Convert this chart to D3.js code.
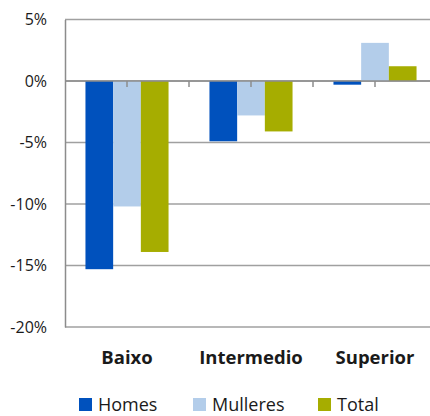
<!DOCTYPE html>
<html>
<head>
<meta charset="utf-8">
<script src="https://cdn.jsdelivr.net/npm/d3@7"></script>
<style>
  body { margin: 0; background: #fff; }
  text { font-family: "Open Sans", Lato, sans-serif; fill: #1a1a1a; }
</style>
</head>
<body>
<div id="chart"></div>
<script>
var categories = ["Baixo", "Intermedio", "Superior"];
var seriesNames = ["Homes", "Mulleres", "Total"];
var homes = [-15.3, -4.9, -0.3];
var mulleres = [-10.2, -2.8, 3.1];
var total = [-13.9, -4.1, 1.2];
var yTicks = [5, 0, -5, -10, -15, -20];
var colors = ["#0051bd", "#b3cdea", "#a6ad00"];

var svgWidth = 430;
var svgHeight = 416;
var margin = { top: 19.5, right: -7, bottom: 89, left: 65 };
var width = svgWidth - margin.left - margin.right;
var height = svgHeight - margin.top - margin.bottom;

var svg = d3.select("#chart")
  .append("svg")
  .attr("width", svgWidth)
  .attr("height", svgHeight);
var chartGroup = svg.append("g")
  .attr("transform", `translate(${margin.left}, ${margin.top})`);

var data = categories.map(function(c, i) {
  return { cat: c, values: [homes[i], mulleres[i], total[i]] };
});

var x0 = d3.scaleBand().domain(categories).range([0, width]);
var x1 = d3.scaleBand().domain(seriesNames).range([0, x0.bandwidth() * 0.67]);
var y = d3.scaleLinear().domain([-20, 5]).range([height, 0]);

// gridlines
chartGroup.selectAll(".grid")
  .data(yTicks)
  .enter()
  .append("line")
  .attr("x1", 0)
  .attr("x2", width)
  .attr("y1", d => y(d))
  .attr("y2", d => y(d))
  .attr("stroke", "#a0a0a0")
  .attr("stroke-width", 1.5);

// y axis
var leftAxis = d3.axisLeft(y).tickValues(yTicks).tickSize(0).tickPadding(18)
  .tickFormat(d => d + "%");
var yAxis = chartGroup.append("g").call(leftAxis);
yAxis.select(".domain").attr("stroke", "#8c8c8c").attr("stroke-width", 1.5);
yAxis.selectAll("text")
  .style("font-size", "16px")
  .style("font-family", "'Open Sans', sans-serif")
  .attr("fill", "#1a1a1a");

// bars
var groups = chartGroup.selectAll(".cat")
  .data(data)
  .enter()
  .append("g")
  .attr("transform", d => `translate(${x0(d.cat) + x0.bandwidth() * 0.165}, 0)`);

groups.selectAll("rect")
  .data(d => d.values.map((v, i) => ({ name: seriesNames[i], value: v, i: i })))
  .enter()
  .append("rect")
  .attr("x", d => x1(d.name))
  .attr("width", x1.bandwidth())
  .attr("y", d => y(Math.max(0, d.value)))
  .attr("height", d => Math.abs(y(d.value) - y(0)))
  .attr("fill", d => colors[d.i]);

// zero line with category ticks
chartGroup.append("line")
  .attr("x1", 0)
  .attr("x2", width)
  .attr("y1", y(0))
  .attr("y2", y(0))
  .attr("stroke", "#8c8c8c")
  .attr("stroke-width", 1.5);

var tickPos = [];
categories.forEach(function(c, i) {
  tickPos.push(x0(c) + x0.bandwidth() / 2);
  if (i > 0) tickPos.push(x0(c));
});
chartGroup.selectAll(".ctick")
  .data(tickPos)
  .enter()
  .append("line")
  .attr("x1", d => d)
  .attr("x2", d => d)
  .attr("y1", y(0))
  .attr("y2", y(0) + 6)
  .attr("stroke", "#8c8c8c")
  .attr("stroke-width", 1.5);

// category labels
chartGroup.selectAll(".clabel")
  .data(categories)
  .enter()
  .append("text")
  .attr("x", d => x0(d) + x0.bandwidth() / 2)
  .attr("y", 364 - margin.top)
  .attr("text-anchor", "middle")
  .style("font-size", "18.5px")
  .style("font-weight", "bold")
  .text(d => d);

// legend
var legendX = [79, 193, 318];
var legend = svg.selectAll(".legend")
  .data(seriesNames)
  .enter()
  .append("g")
  .attr("transform", (d, i) => `translate(${legendX[i]}, 398)`);
legend.append("rect")
  .attr("width", 13)
  .attr("height", 13)
  .attr("fill", (d, i) => colors[i]);
legend.append("text")
  .attr("x", 19)
  .attr("y", 12.5)
  .style("font-size", "18px")
  .text(d => d);
</script>
</body>
</html>
